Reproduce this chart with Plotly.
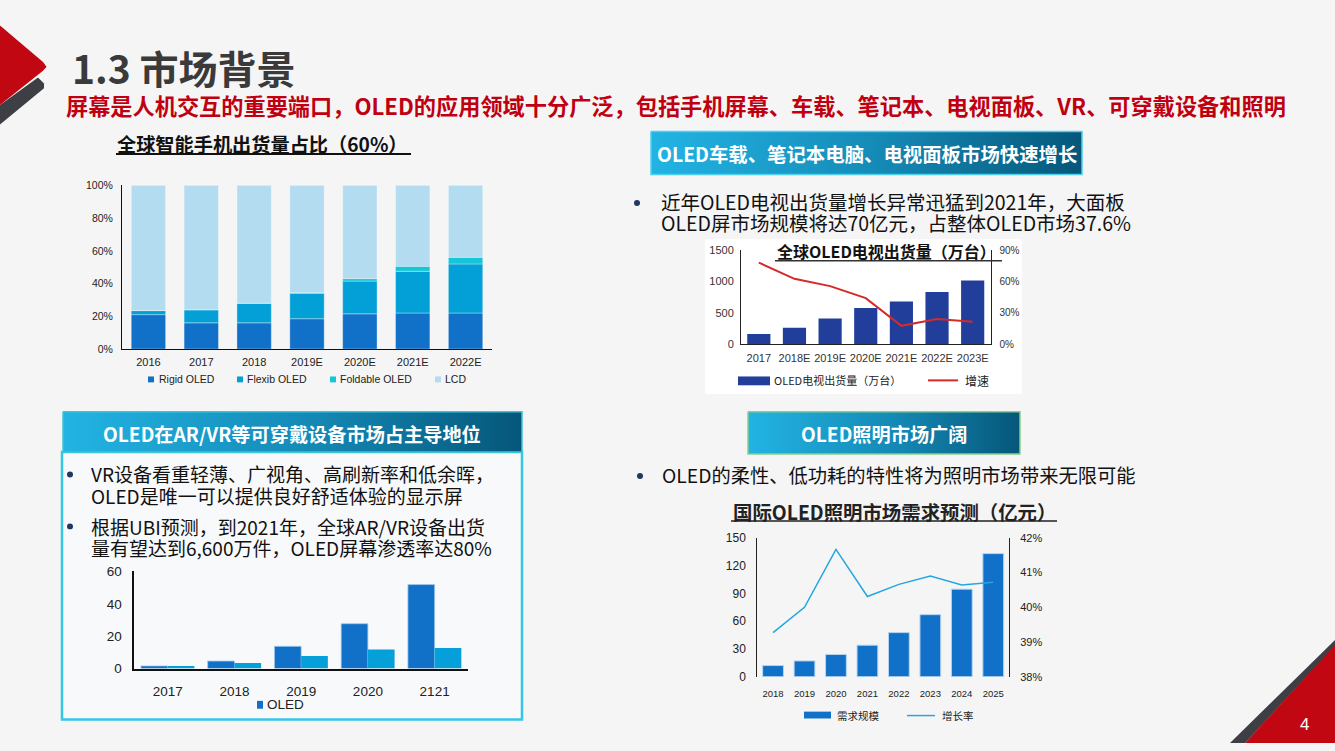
import plotly.graph_objects as go

W, H = 1335, 751
CJK = "Noto Sans CJK SC"
ARIAL = "Liberation Sans"

# ---------------- data ----------------
phone_years = ['2016', '2017', '2018', '2019E', '2020E', '2021E', '2022E']
rigid_oled = [21, 16, 16, 18.5, 21.5, 22, 22]
flexib_oled = [2.5, 8, 12, 15.5, 20, 25.5, 30]
foldable_oled = [0, 0, 0, 0.5, 1.5, 3, 4]
lcd_share = [76.5, 76, 72, 65.5, 57, 49.5, 44]

tv_years = ['2017', '2018E', '2019E', '2020E', '2021E', '2022E', '2023E']
tv_shipments = [160, 260, 410, 575, 680, 830, 1015]
tv_growth = [78, 62.5, 55.5, 44, 17.5, 24, 21.5]

vr_years = ['2017', '2018', '2019', '2020', '2121']
vr_total = [1.6, 4.6, 13.7, 27.7, 51.9]
vr_oled = [1.6, 3.4, 7.7, 11.7, 12.7]

light_years = ['2018', '2019', '2020', '2021', '2022', '2023', '2024', '2025']
light_demand = [12, 17, 24, 34, 47.6, 67, 94.6, 133]
light_growth = [39.27, 40.0, 41.67, 40.31, 40.66, 40.9, 40.64, 40.72]


def px(x):
    return x / W


def py(y):
    return 1 - y / H


fig = go.Figure()

# ---------- chart 1: stacked share ----------
base_flex = list(rigid_oled)
base_fold = [a + b for a, b in zip(rigid_oled, flexib_oled)]
base_lcd = [a + b + c for a, b, c in zip(rigid_oled, flexib_oled, foldable_oled)]
edge = dict(color='rgba(255,255,255,0.55)', width=0.6)
fig.add_bar(x=phone_years, y=rigid_oled, marker=dict(color='#1170c8', line=edge),
            width=0.65, xaxis='x', yaxis='y', name='Rigid OLED')
fig.add_bar(x=phone_years, y=flexib_oled, base=base_flex, marker=dict(color='#03a0d8', line=edge),
            width=0.65, xaxis='x', yaxis='y', name='Flexib OLED')
fig.add_bar(x=phone_years, y=foldable_oled, base=base_fold, marker=dict(color='#14c6d6', line=edge),
            width=0.65, xaxis='x', yaxis='y', name='Foldable OLED')
fig.add_bar(x=phone_years, y=lcd_share, base=base_lcd, marker=dict(color='#b3dcf1', line=edge),
            width=0.65, xaxis='x', yaxis='y', name='LCD')

# ---------- chart 2: TV shipments ----------
fig.add_bar(x=tv_years, y=tv_shipments, marker=dict(color='#213e9a', line=dict(width=0)),
            width=0.65, xaxis='x2', yaxis='y2', name='OLED电视出货量（万台）')
fig.add_scatter(x=tv_years, y=tv_growth, mode='lines', line=dict(color='#d42a2a', width=2),
                xaxis='x2', yaxis='y3', name='增速')

# ---------- chart 3: AR/VR ----------
fig.add_bar(x=vr_years, y=vr_total, marker=dict(color='#1170c8', line=dict(color='#9fc6ea', width=0.8)),
            width=0.4, offset=-0.4, xaxis='x3', yaxis='y4', name='OLED')
fig.add_bar(x=vr_years, y=vr_oled, marker=dict(color='#05a0da', line=dict(width=0)),
            width=0.4, offset=0, xaxis='x3', yaxis='y4', name='OLED2')

# ---------- chart 4: lighting ----------
fig.add_bar(x=light_years, y=light_demand, marker=dict(color='#1170c8', line=dict(color='#b6d4ee', width=1)),
            width=0.66, xaxis='x4', yaxis='y5', name='需求规模')
fig.add_scatter(x=light_years, y=light_growth, mode='lines', line=dict(color='#22a7e0', width=1.5),
                xaxis='x4', yaxis='y6', name='增长率')

# ---------- gradient header boxes (page axis) ----------
grad = dict(type='horizontal', colorscale=[[0, '#22b4e4'], [0.55, '#1488b4'], [1, '#05577a']])
boxes = [((651, 127), (1082, 171), '#4fd0ec'),
         ((63, 413), (522, 454), '#3fc4d8'),
         ((748, 413), (1020, 456), '#86d08a')]
for (x0, y0), (x1, y1), bc in boxes:
    fig.add_scatter(x=[x0, x1, x1, x0, x0], y=[y0, y0, y1, y1, y0], mode='lines', fill='toself',
                    fillgradient=grad, line=dict(color=bc, width=1.5), xaxis='x5', yaxis='y7',
                    hoverinfo='skip')

noline = dict(showgrid=False, zeroline=False, ticks='', fixedrange=True)

fig.update_layout(
    width=W, height=H, margin=dict(l=0, r=0, t=0, b=0),
    paper_bgcolor='#f5f5f5', plot_bgcolor='rgba(0,0,0,0)',
    barmode='overlay', showlegend=False,
    font=dict(family=ARIAL, color='#222'),
    xaxis=dict(domain=[px(122), px(492)], anchor='y', showline=True, linecolor='#111', linewidth=1,
               ticklabelstandoff=3, tickfont=dict(size=11, family=ARIAL, color='#222'), **noline),
    yaxis=dict(domain=[py(349), py(182)], anchor='x', range=[0, 100], dtick=20, ticksuffix='%',
               showline=True, linecolor='#111', linewidth=1, ticklabelstandoff=6,
               tickfont=dict(size=10.5, family=ARIAL, color='#222'), **noline),
    xaxis2=dict(domain=[px(741), px(990.5)], anchor='y2', showline=True, linecolor='#222', linewidth=1,
                ticklabelstandoff=4, tickfont=dict(size=11, family=ARIAL, color='#333'), **noline),
    yaxis2=dict(domain=[py(344), py(248)], anchor='x2', range=[0, 1500], dtick=500,
                showline=True, linecolor='#222', linewidth=1, ticklabelstandoff=4,
                tickfont=dict(size=11, family=ARIAL, color='#333'), **noline),
    yaxis3=dict(domain=[py(344), py(248)], anchor='x2', overlaying='y2', side='right', range=[0, 90],
                dtick=30, ticksuffix='%', showline=True, linecolor='#222', linewidth=1, ticklabelstandoff=6,
                tickfont=dict(size=10, family=ARIAL, color='#333'), **noline),
    xaxis3=dict(domain=[px(134.3), px(468)], anchor='y4', showline=True, linecolor='#111', linewidth=1.5,
                ticklabelstandoff=10, tickfont=dict(size=13.5, family=ARIAL, color='#222'), **noline),
    yaxis4=dict(domain=[py(675), py(576)], anchor='x3', range=[0, 60], dtick=20,
                showline=True, linecolor='#111', linewidth=1.5, ticklabelstandoff=8,
                tickfont=dict(size=13.5, family=ARIAL, color='#222'), **noline),
    xaxis4=dict(domain=[px(757.3), px(1009)], anchor='y5', showline=False, ticklabelstandoff=10,
                tickfont=dict(size=9.5, family=ARIAL, color='#222'), **noline),
    yaxis5=dict(domain=[py(683.3), py(541.7)], anchor='x4', range=[0, 150], dtick=30,
                showline=True, linecolor='#222', linewidth=1, ticklabelstandoff=8,
                tickfont=dict(size=12, family=ARIAL, color='#222'), **noline),
    yaxis6=dict(domain=[py(683.3), py(541.7)], anchor='x4', overlaying='y5', side='right', range=[38, 42],
                dtick=1, ticksuffix='%', showline=True, linecolor='#222', linewidth=1, ticklabelstandoff=8,
                tickfont=dict(size=11, family=ARIAL, color='#222'), **noline),
    xaxis5=dict(domain=[0, 1], anchor='y7', range=[0, W], visible=False, fixedrange=True),
    yaxis7=dict(domain=[0, 1], anchor='x5', range=[H, 0], visible=False, fixedrange=True),
)

shapes = []
# decorative corners
shapes.append(dict(type='path', xref='paper', yref='paper', layer='above',
                   path=f"M {px(0)} {py(100)} L {px(38)} {py(72)} L {px(44)} {py(78)} L {px(44)} {py(83)} L {px(0)} {py(120)} Z",
                   fillcolor='#3d3f45', line=dict(width=0)))
shapes.append(dict(type='path', xref='paper', yref='paper', layer='above',
                   path=f"M {px(0)} {py(19)} L {px(43)} {py(56)} L {px(46.5)} {py(61)} L {px(43)} {py(65)} L {px(0)} {py(100)} Z",
                   fillcolor='#c10712', line=dict(width=0)))
shapes.append(dict(type='path', xref='paper', yref='paper', layer='above',
                   path=f"M {px(1230)} {py(751)} L {px(1335)} {py(646)} L {px(1335)} {py(652)} L {px(1245)} {py(751)} Z",
                   fillcolor='#3d3f45', line=dict(width=0)))
shapes.append(dict(type='path', xref='paper', yref='paper', layer='above',
                   path=f"M {px(1245)} {py(751)} L {px(1335)} {py(651)} L {px(1335)} {py(751)} Z",
                   fillcolor='#c10712', line=dict(width=0)))
# white panel behind TV chart
shapes.append(dict(type='rect', xref='paper', yref='paper', layer='below',
                   x0=px(705), x1=px(1022), y0=py(395), y1=py(237), fillcolor='#ffffff', line=dict(width=0)))
# AR/VR panel
shapes.append(dict(type='rect', xref='paper', yref='paper', layer='below',
                   x0=px(62), x1=px(522), y0=py(727), y1=py(454), fillcolor='#f8f9fa',
                   line=dict(color='#35c6e6', width=2.5)))
# underlines
shapes.append(dict(type='line', xref='paper', yref='paper', x0=px(116), x1=px(411), y0=py(150), y1=py(150),
                   line=dict(color='#111', width=2)))
shapes.append(dict(type='line', xref='paper', yref='paper', x0=px(775), x1=px(1002), y0=py(259), y1=py(259),
                   line=dict(color='#333', width=1.5)))
shapes.append(dict(type='line', xref='paper', yref='paper', x0=px(731), x1=px(1057), y0=py(524.5), y1=py(524.5),
                   line=dict(color='#555', width=2)))


# legends (manual swatches)
def rect(x0, y0, x1, y1, c):
    shapes.append(dict(type='rect', xref='paper', yref='paper', x0=px(x0), x1=px(x1), y0=py(y1), y1=py(y0),
                       fillcolor=c, line=dict(width=0)))


def hline(x0, x1, y, c, w):
    shapes.append(dict(type='line', xref='paper', yref='paper', x0=px(x0), x1=px(x1), y0=py(y), y1=py(y),
                       line=dict(color=c, width=w)))


def dot(x, y, r, c):
    shapes.append(dict(type='circle', xref='paper', yref='paper', x0=px(x - r), x1=px(x + r),
                       y0=py(y + r), y1=py(y - r), fillcolor=c, line=dict(width=0)))


rect(148, 377, 154, 383, '#1170c8')
rect(237, 377, 243, 383, '#03a0d8')
rect(330, 377, 336, 383, '#14c6d6')
rect(435, 377, 441, 383, '#b3dcf1')
rect(738, 377, 770, 386, '#213e9a')
hline(928, 958, 381, '#d42a2a', 2)
rect(257, 708, 263, 716, '#1170c8')
rect(804, 719, 831, 726, '#1170c8')
hline(907, 935, 723, '#22a7e0', 1.5)

bullet_c = '#1f3864'
dot(637, 200, 3, bullet_c)
dot(70, 477, 3, bullet_c)
dot(70, 530, 3, bullet_c)
dot(640, 478.5, 3, bullet_c)

fig.update_layout(shapes=shapes)

ann = []


def text(x, y, s, size, color='#111', weight='normal', anchor='left', family=CJK):
    ann.append(dict(xref='paper', yref='paper', x=px(x), y=py(y), text=s, showarrow=False,
                    xanchor=anchor, yanchor='middle', align='left',
                    font=dict(family=family, size=size, color=color, weight=weight)))


def block(x, y, lines, size, spacing):
    # two-line text block: base font sets line spacing (1.3em), spans set glyph size
    s = '<br>'.join(f'<span style="font-size:{size}px">{ln}</span>' for ln in lines)
    text(x, y, s, spacing / 1.3)


text(70, 61, '1.3 市场背景', 39, '#3a3a3a', 'bold')
text(64, 100.5, '屏幕是人机交互的重要端口，OLED的应用领域十分广泛，包括手机屏幕、车载、笔记本、电视面板、VR、可穿戴设备和照明',
     22.2, '#c00010', 'bold')
text(115, 140, '全球智能手机出货量占比（60%）', 19.2, '#111', 'bold')

# header texts
text(866.5, 149, 'OLED车载、笔记本电脑、电视面板市场快速增长', 19.4, '#ffffff', 'bold', 'center')
text(292, 435.5, 'OLED在AR/VR等可穿戴设备市场占主导地位', 19.2, '#ffffff', 'bold', 'center')
text(884, 435.5, 'OLED照明市场广阔', 19.2, '#ffffff', 'bold', 'center')

# bullet texts
block(659, 209.5, ['近年OLED电视出货量增长异常迅猛到2021年，大面板',
                   'OLED屏市场规模将达70亿元，占整体OLED市场37.6%'], 19.5, 21)
block(89, 487.5, ['VR设备看重轻薄、广视角、高刷新率和低余晖，',
                  'OLED是唯一可以提供良好舒适体验的显示屏'], 19, 21.5)
block(89, 540.5, ['根据UBI预测，到2021年，全球AR/VR设备出货',
                  '量有望达到6,600万件，OLED屏幕渗透率达80%'], 19, 21)

text(660, 478, 'OLED的柔性、低功耗的特性将为照明市场带来无限可能', 19.3)

# chart titles inside
text(775, 249, '全球OLED电视出货量（万台）', 16, '#111', 'bold')
text(731, 515, '国际OLED照明市场需求预测（亿元）', 19.4, '#222', 'bold')

# legend texts
text(156.5, 380, 'Rigid OLED', 10.5, '#222', family=ARIAL)
text(245, 380, 'Flexib OLED', 10.5, '#222', family=ARIAL)
text(338, 380, 'Foldable OLED', 10.5, '#222', family=ARIAL)
text(443, 380, 'LCD', 10.5, '#222', family=ARIAL)
text(772, 381, 'OLED电视出货量（万台）', 11, '#222')
text(963, 381, '增速', 12, '#222')
text(265, 712, 'OLED', 13.5, '#222', family=ARIAL)
text(835, 722.5, '需求规模', 10.5, '#222')
text(940, 722.5, '增长率', 10.5, '#222')

# page number
text(1304, 732, '4', 17, '#ffffff', anchor='center', family=ARIAL)

fig.update_layout(annotations=ann)

fig.write_html("out.html", config={'displayModeBar': False},
               post_script="document.body.style.margin='0';document.body.style.overflow='hidden';")
